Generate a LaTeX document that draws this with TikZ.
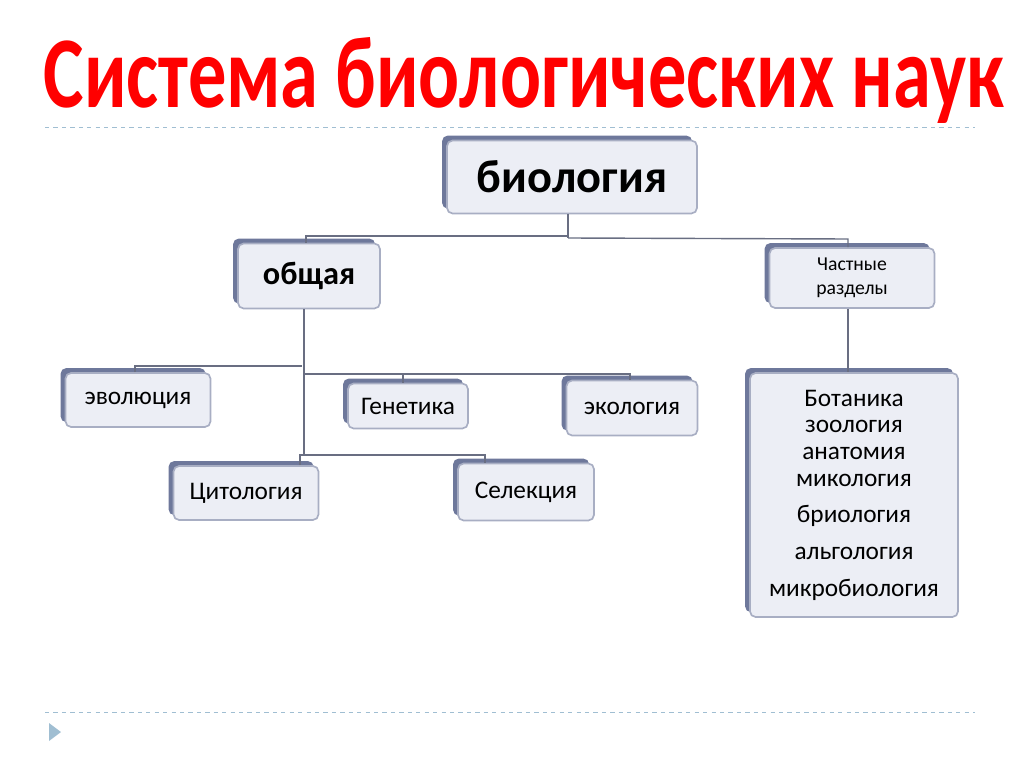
\documentclass[tikz,border=0pt]{standalone}
\usepackage{fontspec}
\setmainfont{Carlito}
\usetikzlibrary{positioning,shadows}
\definecolor{slate}{RGB}{110,120,155}
\definecolor{boxfill}{RGB}{236,238,245}
\definecolor{linecol}{RGB}{105,110,130}
\definecolor{dotcol}{RGB}{160,190,210}
\tikzset{
  box/.style={draw=slate!60, line width=1.2pt, fill=boxfill, rounded corners=4pt,
    drop shadow={shadow xshift=-3.5pt, shadow yshift=3.5pt, fill=slate, opacity=1},
    align=center, inner sep=2pt},
  conn/.style={draw=linecol, line width=1pt},
}
\begin{document}
\begin{tikzpicture}[x=0.025cm, y=-0.025cm]
  \useasboundingbox (0,0) rectangle (1024,767);
  % title
  \node[text=red, font=\bfseries] (title) at (524,80)
    {\resizebox{24cm}{1.75cm}{Система биологических наук}};
  \draw[dotcol, dashed, line width=0.6pt] (45,127) -- (975,127);
  \draw[dotcol, dashed, line width=0.6pt] (45,712) -- (975,712);
  \fill[dotcol] (49,723) -- (61,732) -- (49,741) -- cycle;

  % boxes
  \node[box, minimum width=250*0.025cm, minimum height=73*0.025cm, font=\bfseries\fontsize{33}{36}\selectfont] (bio) at (572,177) {биология};
  \node[box, minimum width=142*0.025cm, minimum height=65*0.025cm, font=\bfseries\fontsize{23}{25}\selectfont] (gen) at (309,276) {общая};
  \node[box, minimum width=165*0.025cm, minimum height=60*0.025cm, font=\fontsize{14}{17}\selectfont] (part) at (852,278) {Частные\\разделы};
  \node[box, minimum width=145*0.025cm, minimum height=54*0.025cm, font=\fontsize{18}{20}\selectfont] (evo) at (138,400) {эволюция};
  \node[box, minimum width=120*0.025cm, minimum height=45*0.025cm, font=\fontsize{18}{20}\selectfont] (genet) at (408,406) {Генетика};
  \node[box, minimum width=131*0.025cm, minimum height=55*0.025cm, font=\fontsize{18}{20}\selectfont] (eco) at (632,408) {экология};
  \node[box, minimum width=145*0.025cm, minimum height=54*0.025cm, font=\fontsize{18}{20}\selectfont] (cyto) at (246,493) {Цитология};
  \node[box, minimum width=136*0.025cm, minimum height=57*0.025cm, font=\fontsize{18}{20}\selectfont] (sel) at (526,492) {Селекция};
  \node[box, minimum width=208*0.025cm, minimum height=244*0.025cm, font=\fontsize{18}{20}\selectfont] (list) at (854,495)
    {Ботаника\\[-1pt]зоология\\[-1pt]анатомия\\[-1pt]микология\\[6pt]бриология\\[6pt]альгология\\[6pt]микробиология};

  % connectors
  \coordinate (j1) at (568,238);
  \draw[conn] (bio.south -| j1) -- (j1);
  \draw[conn] (gen.north -| 306,0) -- (306,236) -- (568,236);
  \draw[conn] (j1) -- (848,239) -- (part.north -| 848,0);
  \draw[conn] (gen.south -| 304,0) -- (304,455);
  \draw[conn] (evo.north -| 135,0) -- (135,366) -- (302,366);
  \draw[conn] (304,374) -- (630,374) -- (eco.north -| 630,0);
  \draw[conn] (403,374) -- (genet.north -| 403,0);
  \draw[conn] (cyto.north -| 300,0) -- (300,455) -- (485,455) -- (sel.north -| 485,0);
  \draw[conn] (part.south -| 848,0) -- (list.north -| 848,0);
\end{tikzpicture}
\end{document}
